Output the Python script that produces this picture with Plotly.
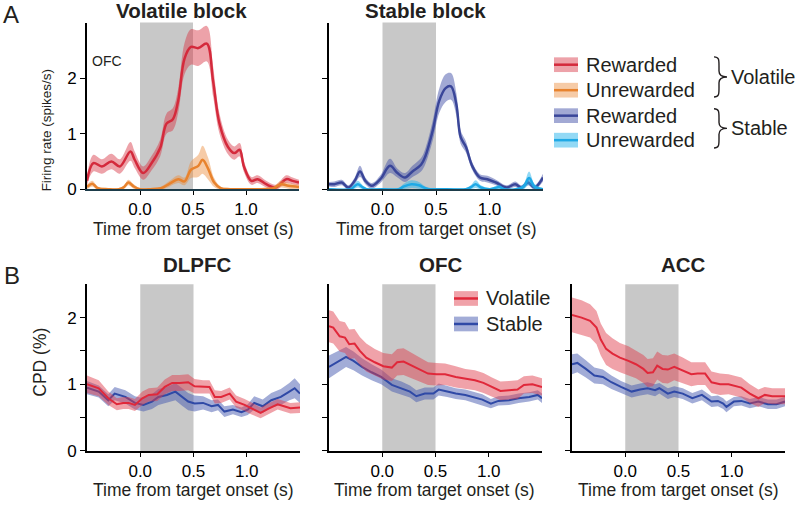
import plotly.graph_objects as go

# ---------------- data ----------------
x_tick_vals = [0, 0.5, 1.0]
x_tick_text = ["0.0", "0.5", "1.0"]

# Panel A, volatile block (OFC firing rate)
t_vol_rew = [-0.5, -0.44, -0.36, -0.27, -0.19, -0.09, -0.05, 0.03, 0.11, 0.19, 0.25, 0.31, 0.36, 0.42, 0.48,
             0.55, 0.63, 0.69, 0.75, 0.83, 0.89, 0.94, 0.98, 1.05, 1.11, 1.19, 1.28, 1.38, 1.44, 1.5]
fr_vol_rew = [0.15, 0.47, 0.41, 0.5, 0.41, 0.68, 0.53, 0.29, 0.47, 0.74, 1.18, 1.26, 1.59, 2.35, 2.56,
              2.54, 2.62, 1.94, 1.18, 0.76, 0.65, 0.71, 0.41, 0.15, 0.18, 0.09, 0.03, 0.18, 0.15, 0.12]
se_vol_rew = [0.08, 0.15, 0.13, 0.14, 0.13, 0.17, 0.15, 0.12, 0.13, 0.15, 0.18, 0.2, 0.22, 0.28, 0.32,
              0.32, 0.32, 0.27, 0.18, 0.13, 0.12, 0.12, 0.1, 0.07, 0.07, 0.06, 0.05, 0.07, 0.06, 0.05]

t_vol_unr = [-0.5, -0.45, -0.4, -0.3, -0.2, -0.15, -0.11, -0.06, 0.0, 0.1, 0.2, 0.28, 0.36, 0.42, 0.48,
             0.55, 0.59, 0.64, 0.7, 0.76, 0.85, 1.0, 1.15, 1.26, 1.33, 1.4, 1.5]
fr_vol_unr = [0.04, 0.1, 0.02, 0.0, 0.0, 0.04, 0.12, 0.05, 0.0, 0.0, 0.02, 0.1, 0.18, 0.14, 0.35,
              0.42, 0.53, 0.38, 0.12, 0.02, 0.0, 0.0, 0.0, 0.02, 0.09, 0.06, 0.04]
se_vol_unr = [0.04, 0.05, 0.03, 0.02, 0.02, 0.03, 0.05, 0.04, 0.02, 0.02, 0.03, 0.05, 0.07, 0.07, 0.15,
              0.2, 0.25, 0.2, 0.08, 0.03, 0.02, 0.02, 0.02, 0.03, 0.06, 0.05, 0.04]

# Panel A, stable block
t_sta_rew = [-0.5, -0.45, -0.38, -0.32, -0.26, -0.21, -0.16, -0.1, -0.02, 0.07, 0.14, 0.21, 0.28, 0.36, 0.4,
             0.47, 0.53, 0.59, 0.64, 0.69, 0.73, 0.78, 0.84, 0.91, 0.98, 1.06, 1.16, 1.24, 1.3, 1.36, 1.42, 1.5]
fr_sta_rew = [0.09, 0.09, 0.12, 0.03, 0.15, 0.32, 0.15, 0.06, 0.18, 0.42, 0.29, 0.21, 0.32, 0.44, 0.59,
              1.06, 1.59, 1.82, 1.85, 1.53, 0.94, 0.76, 0.41, 0.21, 0.18, 0.12, 0.03, 0.09, 0.03, 0.12, 0.03, 0.21]
se_sta_rew = [0.04, 0.05, 0.05, 0.04, 0.06, 0.1, 0.06, 0.05, 0.07, 0.13, 0.08, 0.08, 0.1, 0.12, 0.14,
              0.18, 0.22, 0.25, 0.24, 0.2, 0.12, 0.1, 0.07, 0.06, 0.06, 0.05, 0.04, 0.05, 0.04, 0.05, 0.04, 0.07]

t_sta_unr = [-0.5, -0.3, -0.27, -0.23, -0.19, -0.15, 0.0, 0.15, 0.2, 0.27, 0.34, 0.4, 0.45, 0.6, 0.78,
             0.83, 0.87, 0.92, 1.0, 1.05, 1.09, 1.14, 1.25, 1.32, 1.37, 1.42, 1.5]
fr_sta_unr = [0.0, 0.0, 0.04, 0.09, 0.04, 0.0, 0.0, 0.0, 0.05, 0.09, 0.07, 0.02, 0.0, 0.0, 0.0,
              0.04, 0.09, 0.03, 0.0, 0.02, 0.04, 0.0, 0.0, 0.05, 0.2, 0.05, 0.0]
se_sta_unr = [0.02, 0.02, 0.04, 0.06, 0.04, 0.02, 0.02, 0.02, 0.05, 0.07, 0.06, 0.03, 0.02, 0.02, 0.02,
              0.04, 0.07, 0.04, 0.02, 0.03, 0.04, 0.02, 0.02, 0.05, 0.12, 0.05, 0.02]

# Panel B, CPD (%)
t_dl_vol = [-0.5, -0.39, -0.3, -0.22, -0.16, -0.11, -0.05, 0.02, 0.08, 0.16, 0.23, 0.3, 0.37, 0.45, 0.51,
            0.59, 0.65, 0.7, 0.76, 0.84, 0.9, 0.98, 1.04, 1.13, 1.2, 1.29, 1.35, 1.41, 1.5]
cpd_dl_vol = [1.0, 0.94, 0.79, 0.70, 0.72, 0.72, 0.69, 0.79, 0.84, 0.85, 0.96, 1.02, 1.02, 1.03, 0.97,
              0.96, 0.96, 0.81, 0.81, 0.86, 0.74, 0.69, 0.64, 0.57, 0.63, 0.70, 0.67, 0.64, 0.65]
se_dl_vol = [0.13, 0.12, 0.1, 0.09, 0.09, 0.09, 0.09, 0.1, 0.1, 0.1, 0.11, 0.12, 0.12, 0.12, 0.11,
             0.1, 0.1, 0.1, 0.09, 0.09, 0.09, 0.09, 0.09, 0.08, 0.08, 0.08, 0.08, 0.08, 0.08]

t_dl_sta = [-0.5, -0.39, -0.3, -0.24, -0.14, -0.05, 0.03, 0.11, 0.17, 0.25, 0.33, 0.39, 0.45, 0.51,
            0.59, 0.67, 0.73, 0.79, 0.87, 0.95, 1.01, 1.07, 1.15, 1.23, 1.32, 1.4, 1.45, 1.5]
cpd_dl_sta = [0.95, 0.89, 0.76, 0.86, 0.81, 0.72, 0.69, 0.74, 0.81, 0.84, 0.89, 0.81, 0.74, 0.71,
              0.72, 0.67, 0.69, 0.59, 0.62, 0.58, 0.62, 0.72, 0.67, 0.76, 0.81, 0.89, 0.94, 0.86]
se_dl_sta = [0.1, 0.09, 0.09, 0.1, 0.1, 0.1, 0.1, 0.11, 0.12, 0.12, 0.13, 0.13, 0.13, 0.12,
             0.1, 0.09, 0.08, 0.08, 0.07, 0.07, 0.08, 0.1, 0.1, 0.11, 0.12, 0.13, 0.15, 0.14]

t_ofc_vol = [-0.5, -0.46, -0.4, -0.35, -0.31, -0.26, -0.21, -0.15, -0.07, 0.01, 0.09, 0.14, 0.2, 0.28, 0.36,
             0.43, 0.51, 0.59, 0.69, 0.78, 0.87, 0.95, 1.03, 1.11, 1.19, 1.27, 1.33, 1.41, 1.5]
cpd_ofc_vol = [1.87, 1.85, 1.72, 1.70, 1.60, 1.61, 1.50, 1.40, 1.33, 1.27, 1.25, 1.33, 1.34, 1.28, 1.22,
               1.16, 1.15, 1.15, 1.11, 1.08, 1.06, 1.02, 0.96, 0.90, 0.91, 0.92, 0.99, 1.0, 0.96]
se_ofc_vol = [0.24, 0.24, 0.23, 0.23, 0.22, 0.22, 0.21, 0.21, 0.2, 0.2, 0.2, 0.2, 0.2, 0.19, 0.18,
              0.17, 0.17, 0.16, 0.16, 0.15, 0.15, 0.15, 0.14, 0.14, 0.14, 0.14, 0.13, 0.13, 0.13]

t_ofc_sta = [-0.5, -0.41, -0.34, -0.27, -0.19, -0.1, -0.01, 0.09, 0.18, 0.26, 0.32, 0.4, 0.48, 0.53,
             0.61, 0.69, 0.78, 0.86, 0.94, 1.02, 1.09, 1.19, 1.28, 1.38, 1.46, 1.5]
cpd_ofc_sta = [1.26, 1.35, 1.41, 1.35, 1.26, 1.18, 1.11, 0.99, 0.94, 0.89, 0.82, 0.86, 0.86, 0.92,
               0.89, 0.86, 0.84, 0.80, 0.77, 0.71, 0.75, 0.76, 0.79, 0.81, 0.84, 0.79]
se_ofc_sta = [0.17, 0.16, 0.15, 0.14, 0.13, 0.12, 0.11, 0.1, 0.1, 0.09, 0.09, 0.09, 0.09, 0.09,
              0.08, 0.08, 0.08, 0.08, 0.08, 0.07, 0.07, 0.07, 0.07, 0.07, 0.07, 0.07]

t_acc_vol = [-0.5, -0.41, -0.33, -0.27, -0.23, -0.18, -0.12, -0.05, 0.03, 0.1, 0.17, 0.21, 0.26, 0.3, 0.35,
             0.4, 0.46, 0.54, 0.62, 0.68, 0.75, 0.81, 0.89, 0.97, 1.03, 1.09, 1.17, 1.25, 1.31, 1.38, 1.44, 1.5]
cpd_acc_vol = [2.04, 2.0, 1.95, 1.85, 1.67, 1.53, 1.46, 1.40, 1.35, 1.30, 1.23, 1.17, 1.18, 1.28, 1.23,
               1.22, 1.26, 1.21, 1.15, 1.16, 1.16, 1.03, 1.0, 1.0, 0.97, 0.95, 0.86, 0.79, 0.84, 0.82, 0.82, 0.82]
se_acc_vol = [0.26, 0.26, 0.25, 0.25, 0.24, 0.24, 0.23, 0.22, 0.22, 0.21, 0.21, 0.21, 0.21, 0.21, 0.21,
              0.21, 0.2, 0.19, 0.18, 0.17, 0.17, 0.16, 0.16, 0.15, 0.15, 0.15, 0.14, 0.13, 0.12, 0.12, 0.12, 0.12]

t_acc_sta = [-0.5, -0.45, -0.37, -0.29, -0.21, -0.13, -0.04, 0.06, 0.14, 0.21, 0.28, 0.32, 0.4, 0.46,
             0.54, 0.63, 0.72, 0.81, 0.87, 0.92, 0.95, 1.02, 1.09, 1.17, 1.25, 1.34, 1.42, 1.5]
cpd_acc_sta = [1.30, 1.32, 1.23, 1.13, 1.11, 1.03, 0.96, 0.89, 0.92, 0.94, 0.91, 0.94, 0.86, 0.89,
               0.86, 0.79, 0.84, 0.74, 0.75, 0.71, 0.66, 0.74, 0.75, 0.71, 0.74, 0.70, 0.70, 0.74]
se_acc_sta = [0.15, 0.14, 0.13, 0.12, 0.11, 0.1, 0.09, 0.09, 0.09, 0.09, 0.09, 0.08, 0.08, 0.08,
              0.08, 0.08, 0.08, 0.08, 0.08, 0.08, 0.08, 0.07, 0.07, 0.07, 0.07, 0.07, 0.07, 0.07]

# ---------------- styling ----------------
W, H = 800, 506
FONT = "Liberation Sans"


def px(x):
    return x / W


def py(y):
    return 1 - y / H


C_RED_A, B_RED_A = "#d42a3c", "rgba(214,48,64,0.45)"
C_ORA, B_ORA = "#e8832e", "rgba(236,140,60,0.45)"
C_DBL, B_DBL = "#3a4699", "rgba(70,84,170,0.5)"
C_LBL, B_LBL = "#1fa9e6", "rgba(40,180,235,0.5)"
C_RED_B, B_RED_B = "#e0283a", "rgba(224,60,75,0.48)"
C_BLU_B, B_BLU_B = "#2f49a6", "rgba(70,90,175,0.5)"

fig = go.Figure()


def add_series(t, m, s, xa, ya, lc, bc, width, shape):
    up = [a + b for a, b in zip(m, s)]
    lo = [a - b for a, b in zip(m, s)]
    fig.add_trace(go.Scatter(x=t, y=up, xaxis=xa, yaxis=ya, mode="lines",
                             line=dict(width=0, color=bc, shape=shape),
                             hoverinfo="skip", showlegend=False))
    fig.add_trace(go.Scatter(x=t, y=lo, xaxis=xa, yaxis=ya, mode="lines", fill="tonexty",
                             fillcolor=bc, line=dict(width=0, color=bc, shape=shape),
                             hoverinfo="skip", showlegend=False))
    fig.add_trace(go.Scatter(x=t, y=m, xaxis=xa, yaxis=ya, mode="lines",
                             line=dict(width=width, color=lc, shape=shape), showlegend=False))


add_series(t_vol_rew, fr_vol_rew, se_vol_rew, "x", "y", C_RED_A, B_RED_A, 2.5, "spline")
add_series(t_vol_unr, fr_vol_unr, se_vol_unr, "x", "y", C_ORA, B_ORA, 2.5, "spline")
add_series(t_sta_rew, fr_sta_rew, se_sta_rew, "x2", "y2", C_DBL, B_DBL, 2.5, "spline")
add_series(t_sta_unr, fr_sta_unr, se_sta_unr, "x2", "y2", C_LBL, B_LBL, 2.5, "spline")

add_series(t_dl_sta, cpd_dl_sta, se_dl_sta, "x3", "y3", C_BLU_B, B_BLU_B, 2, "linear")
add_series(t_dl_vol, cpd_dl_vol, se_dl_vol, "x3", "y3", C_RED_B, B_RED_B, 2, "linear")
add_series(t_ofc_sta, cpd_ofc_sta, se_ofc_sta, "x4", "y4", C_BLU_B, B_BLU_B, 2, "linear")
add_series(t_ofc_vol, cpd_ofc_vol, se_ofc_vol, "x4", "y4", C_RED_B, B_RED_B, 2, "linear")
add_series(t_acc_sta, cpd_acc_sta, se_acc_sta, "x5", "y5", C_BLU_B, B_BLU_B, 2, "linear")
add_series(t_acc_vol, cpd_acc_vol, se_acc_vol, "x5", "y5", C_RED_B, B_RED_B, 2, "linear")

panels = {
    # name: (left, right, top, bottom, yrange, yticks, ytext, show y labels, xline colour)
    "1": (87, 299, 23, 193, [0, 3], [0, 1, 2], ["0", "1", "2"], True, "#1d3c4a"),
    "2": (329, 543, 23, 193, [0, 3], [0, 1, 2], ["0", "1", "2"], False, "#1d3c4a"),
    "3": (87, 300, 290, 460, [0, 2.5], [0, 0.5, 1, 1.5, 2], ["0", "", "1", "", "2"], True, "black"),
    "4": (329, 542, 290, 460, [0, 2.5], [0, 0.5, 1, 1.5, 2], ["0", "", "1", "", "2"], False, "black"),
    "5": (572, 785, 290, 460, [0, 2.5], [0, 0.5, 1, 1.5, 2], ["0", "", "1", "", "2"], False, "black"),
}

tickfont = dict(family=FONT, size=17, color="black")
layout_axes = {}
shapes = []
for k, (l, r, top, bot, yr, yt, ytx, showy, xcol) in panels.items():
    xn = "xaxis" if k == "1" else "xaxis" + k
    yn = "yaxis" if k == "1" else "yaxis" + k
    xa = "x" if k == "1" else "x" + k
    ya = "y" if k == "1" else "y" + k
    layout_axes[xn] = dict(domain=[px(l), px(r)], range=[-0.5, 1.5], anchor=ya,
                           tickvals=x_tick_vals, ticktext=x_tick_text, ticks="outside",
                           ticklen=4, tickwidth=1.2, tickcolor="black",
                           showline=True, linewidth=1.6, linecolor=xcol,
                           showgrid=False, zeroline=False, tickfont=tickfont)
    layout_axes[yn] = dict(domain=[py(bot), py(top)], range=yr, anchor=xa,
                           tickvals=yt, ticktext=ytx, showticklabels=showy, ticks="outside",
                           ticklen=5, tickwidth=1.2, tickcolor="black",
                           showline=True, linewidth=1.6, linecolor="black",
                           showgrid=False, zeroline=False, tickfont=tickfont)
    shapes.append(dict(type="rect", xref=xa, yref=ya + " domain", x0=0, x1=0.5, y0=0, y1=1,
                       fillcolor="#c8c8c8", line=dict(width=0), layer="below"))

# legend swatches (panel A)
legA = [(66, C_RED_A, B_RED_A, "Rewarded"), (92, C_ORA, B_ORA, "Unrewarded"),
        (118, C_DBL, B_DBL, "Rewarded"), (143, C_LBL, B_LBL, "Unrewarded")]
legB = [(304.5, C_RED_B, B_RED_B, "Volatile"), (330.5, C_BLU_B, B_BLU_B, "Stable")]

annotations = []
for (yc, lc, bc, txt), (x0, x1, tx) in [(e, (554, 578, 585)) for e in legA] + [(e, (454, 478, 485)) for e in legB]:
    shapes.append(dict(type="rect", xref="paper", yref="paper", x0=px(x0), x1=px(x1),
                       y0=py(yc + 7.5), y1=py(yc - 7.5), fillcolor=bc, line=dict(width=0)))
    shapes.append(dict(type="line", xref="paper", yref="paper", x0=px(x0), x1=px(x1),
                       y0=py(yc), y1=py(yc), line=dict(color=lc, width=2.5)))
    annotations.append(dict(text=txt, x=px(tx), y=py(yc), xref="paper", yref="paper",
                            xanchor="left", yanchor="middle", showarrow=False, borderpad=0,
                            font=dict(family=FONT, size=20, color="#231f20")))


def brace(x0, ytop, ybot, tip):
    ym = (ytop + ybot) / 2
    xm = x0 + 5
    pts = [
        ("M", [(x0, ytop)]),
        ("C", [(x0 + 5, ytop), (xm, ytop + 3), (xm, ytop + 9)]),
        ("L", [(xm, ym - 6)]),
        ("C", [(xm, ym - 2), (xm + 2, ym), (tip, ym)]),
        ("C", [(xm + 2, ym), (xm, ym + 2), (xm, ym + 6)]),
        ("L", [(xm, ybot - 9)]),
        ("C", [(xm, ybot - 3), (x0 + 5, ybot), (x0, ybot)]),
    ]
    s = ""
    for cmd, ps in pts:
        s += cmd + " " + " ".join(f"{px(a):.5f},{py(b):.5f}" for a, b in ps) + " "
    return dict(type="path", xref="paper", yref="paper", path=s.strip(),
                line=dict(color="#231f20", width=1.4))


shapes.append(brace(714, 58, 99, 727))
shapes.append(brace(714, 111, 151, 727))
annotations.append(dict(text="Volatile", x=px(730), y=py(79), xref="paper", yref="paper",
                        xanchor="left", yanchor="middle", showarrow=False, borderpad=0,
                        font=dict(family=FONT, size=20, color="#231f20")))
annotations.append(dict(text="Stable", x=px(730), y=py(131), xref="paper", yref="paper",
                        xanchor="left", yanchor="middle", showarrow=False, borderpad=0,
                        font=dict(family=FONT, size=20, color="#231f20")))


def label(text, x, y, size, bold=False, angle=0):
    annotations.append(dict(text=f"<b>{text}</b>" if bold else text, x=px(x), y=py(y),
                            xref="paper", yref="paper", xanchor="center", yanchor="middle",
                            showarrow=False, textangle=angle, borderpad=0,
                            font=dict(family=FONT, size=size, color="#231f20")))


label("Volatile block", 181, 11, 20.5, bold=True)
label("Stable block", 425, 11, 20.5, bold=True)
label("DLPFC", 197, 270, 20.5, bold=True)
label("OFC", 440, 270, 20.5, bold=True)
label("ACC", 683, 270, 20.5, bold=True)
label("A", 11, 15, 24)
label("B", 12, 281, 24)
label("OFC", 107, 62, 14)
label("Firing rate (spikes/s)", 46, 133, 13.5, angle=-90)
label("CPD (%)", 40, 370, 17.5, angle=-90)
for cx in (193, 436):
    label("Time from target onset (s)", cx, 234, 17.5)
for cx in (193, 435, 678):
    label("Time from target onset (s)", cx, 500, 17.5)

fig.update_layout(width=W, height=H, autosize=False, margin=dict(l=0, r=0, t=0, b=0),
                  paper_bgcolor="white", plot_bgcolor="white", showlegend=False,
                  shapes=shapes, annotations=annotations, **layout_axes)

# remove the default page margin so the 800x506 figure sits at the window's top-left corner
page_fix = (
    "document.documentElement.style.margin='0';"
    "document.documentElement.style.overflow='hidden';"
    "document.body.style.margin='0';"
    "document.body.style.overflow='hidden';"
    "var gd=document.getElementById('{plot_id}');"
    "gd.style.position='fixed';gd.style.left='0px';gd.style.top='0px';"
)

fig.write_html("out.html", config={"displayModeBar": False}, post_script=page_fix)
